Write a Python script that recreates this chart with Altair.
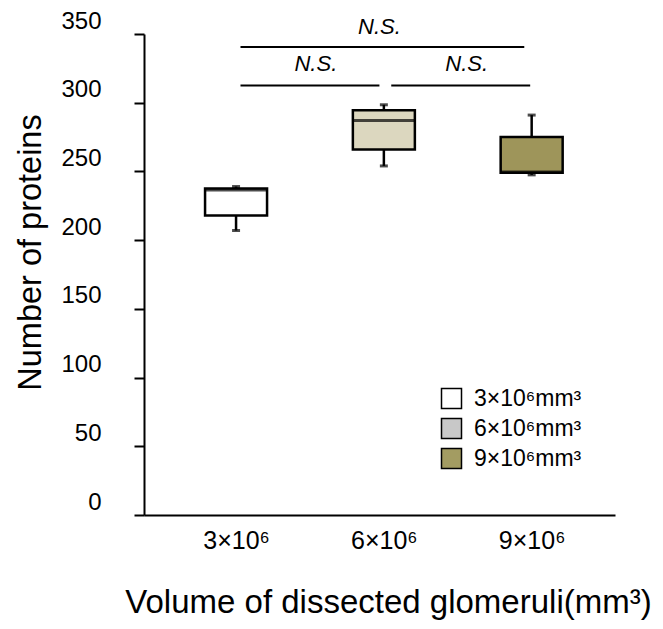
import altair as alt
import pandas as pd

# ---- data ----
categories = ["3×10⁶", "6×10⁶", "9×10⁶"]
legend_labels = ["3×10⁶mm³", "6×10⁶mm³", "9×10⁶mm³"]
mins = [207, 254, 247.5]
q1s = [218, 266, 249]
medians = [236.5, 287, 249.5]
q3s = [237.5, 294.5, 275]
maxs = [239, 298.5, 291]
box_colors = ["#ffffff", "#dcd7bf", "#9e955a"]
legend_colors = ["#ffffff", "#c8c8c8", "#a39c62"]

# significance annotations (x in category-index units, y in data units)
sig_from = [1.03, 1.03, 2.05]
sig_to = [2.95, 1.97, 2.99]
sig_y = [340.5, 312.5, 312.5]
sig_text_x = [1.97, 1.54, 2.56]
sig_text_y = [355, 328.5, 328.5]
sig_text = ["N.S.", "N.S.", "N.S."]

FONT = "Liberation Sans"

df = pd.DataFrame({
    "pos": list(range(1, len(categories) + 1)),
    "cat": categories,
    "leg": legend_labels,
    "min": mins, "q1": q1s, "med": medians, "q3": q3s, "max": maxs,
    "fill": box_colors,
})
sig_df = pd.DataFrame({"x1": sig_from, "x2": sig_to, "y": sig_y})
txt_df = pd.DataFrame({"x": sig_text_x, "y": sig_text_y, "t": sig_text})

label_expr = "[" + ",".join(f"'{c}'" for c in categories) + "][datum.value-1]"

x_scale = alt.Scale(domain=[0.411, 3.53], nice=False, zero=False)
x_axis = alt.Axis(
    values=[1, 2, 3], labelExpr=label_expr, title="Volume of dissected glomeruli(mm³)",
    ticks=False, tickSize=0, grid=False, domainColor="black", domainWidth=2,
    labelFont=FONT, labelFontSize=25, labelColor="black", labelPadding=13,
    titleFont=FONT, titleFontSize=33, titleFontWeight="normal", titleColor="black",
    titleX=244, titleY=71,
)
y_scale = alt.Scale(domain=[0, 350], nice=False, zero=True)
y_axis = alt.Axis(
    values=[0, 50, 100, 150, 200, 250, 300, 350], title="Number of proteins",
    grid=False, tickSize=10, tickWidth=2, tickColor="black", domainColor="black", domainWidth=2,
    labelFont=FONT, labelFontSize=24, labelColor="black", labelPadding=33, labelOffset=-13,
    titleFont=FONT, titleFontSize=32.5, titleFontWeight="normal", titleColor="black",
    titlePadding=13, titleY=218,
)

def X(field):
    return alt.X(field, type="quantitative", scale=x_scale, axis=x_axis)

def Y(field):
    return alt.Y(field, type="quantitative", scale=y_scale, axis=y_axis)

base = alt.Chart(df)

whisk_lo = base.mark_rule(color="black", strokeWidth=2.5).encode(x=X("pos"), y=Y("min"), y2="q1")
whisk_hi = base.mark_rule(color="black", strokeWidth=2.5).encode(x=X("pos"), y=Y("q3"), y2="max")
cap_lo = base.mark_tick(orient="horizontal", size=8, thickness=3, color="black").encode(x=X("pos"), y=Y("min"))
cap_hi = base.mark_tick(orient="horizontal", size=8, thickness=3, color="black").encode(x=X("pos"), y=Y("max"))
box = base.mark_bar(size=62, stroke="black", strokeWidth=2.5).encode(
    x=X("pos"), y=Y("q1"), y2="q3", fill=alt.Fill("fill:N", scale=None)
)
med = base.mark_tick(orient="horizontal", size=62, thickness=3, color="black").encode(x=X("pos"), y=Y("med"))

legend_layer = base.mark_square(opacity=0, size=400).encode(
    x=X("pos"), y=Y("med"),
    color=alt.Color(
        "leg:N",
        scale=alt.Scale(domain=legend_labels, range=legend_colors),
        legend=alt.Legend(
            title=None, orient="none", legendX=296, legendY=353,
            symbolType="square", symbolSize=400, symbolOpacity=1,
            symbolStrokeColor="black", symbolStrokeWidth=1.5,
            labelFont=FONT, labelFontSize=23, labelColor="black", labelOffset=11,
            rowPadding=3,
        ),
    ),
)

sig_lines = alt.Chart(sig_df).mark_rule(color="black", strokeWidth=2).encode(
    x=X("x1"), x2="x2", y=Y("y")
)
sig_texts = alt.Chart(txt_df).mark_text(
    font=FONT, fontSize=22, fontStyle="italic", color="black", baseline="middle"
).encode(x=X("x"), y=Y("y"), text="t:N")

chart = alt.layer(
    whisk_lo, whisk_hi, cap_lo, cap_hi, box, med, legend_layer, sig_lines, sig_texts
).properties(
    width=471, height=481,
    autosize=alt.AutoSizeParams(type="none"),
    padding={"left": 136, "top": 26, "right": 40, "bottom": 106},
    background="white",
).configure_view(stroke=None)

chart.save("out.html", embed_options={"renderer": "svg", "actions": False})
